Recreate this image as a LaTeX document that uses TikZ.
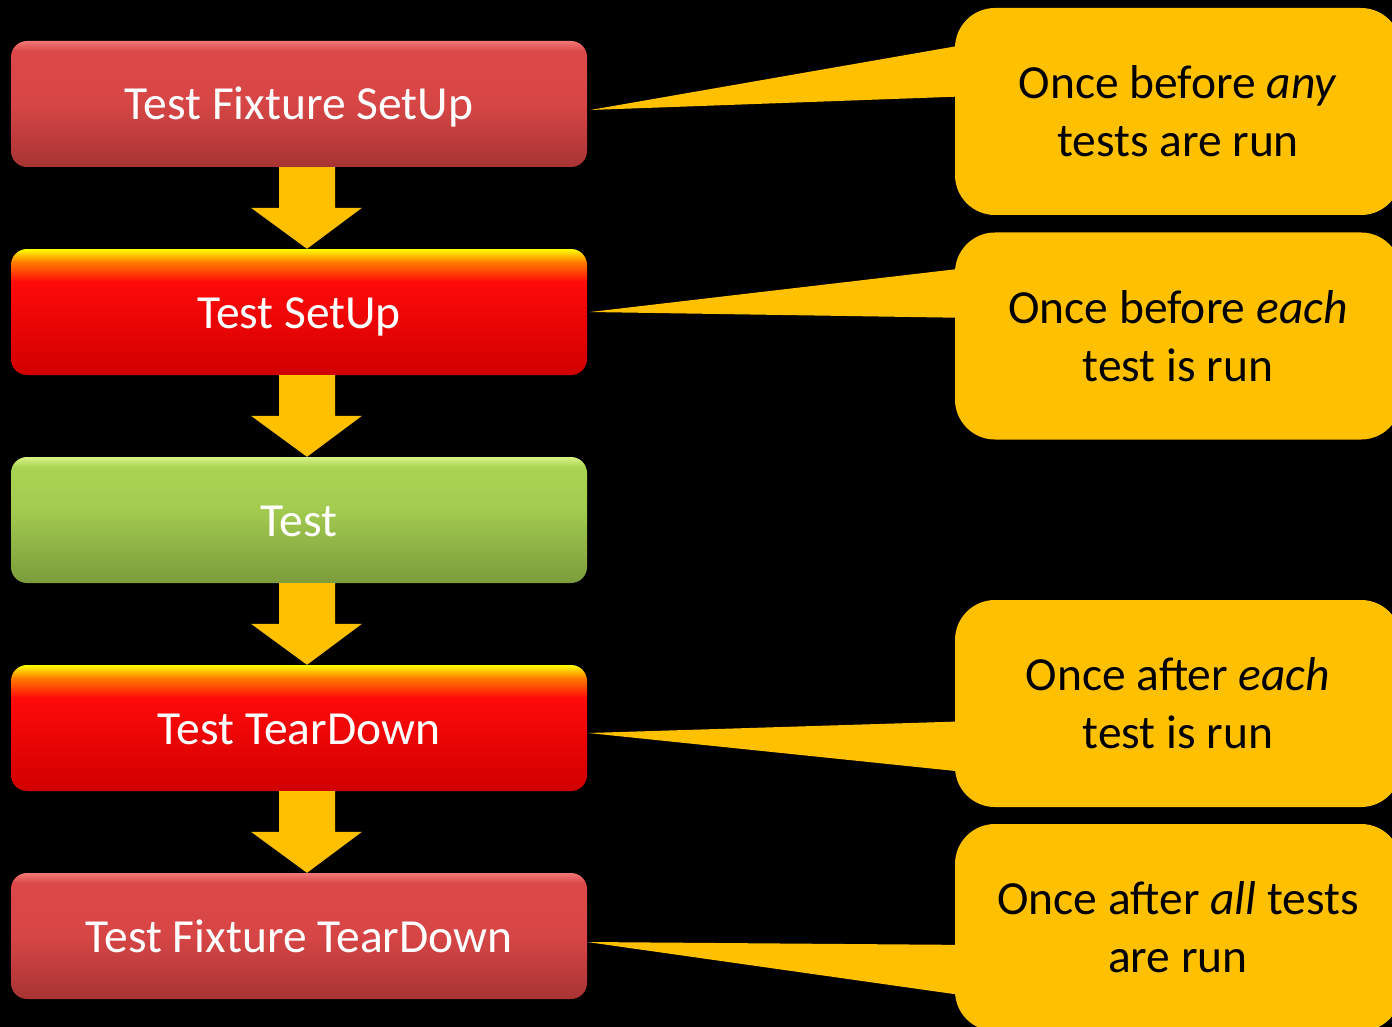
\documentclass[tikz,border=0pt]{standalone}
\usepackage{fontspec}
\setmainfont{Carlito}
\usetikzlibrary{positioning}

\definecolor{gold}{HTML}{FFC000}
\definecolor{dullTop}{HTML}{DC4848}
\definecolor{dullBot}{HTML}{A83333}
\definecolor{dullHi}{HTML}{F07878}
\definecolor{hotTop}{HTML}{FF0A0A}
\definecolor{hotBot}{HTML}{D00000}
\definecolor{greenTop}{HTML}{AAD453}
\definecolor{greenBot}{HTML}{7C9C3C}
\definecolor{greenHi}{HTML}{D8F286}

\pgfdeclareverticalshading{dullred}{100bp}{color(0bp)=(dullBot); color(25bp)=(dullBot);
  color(50bp)=(dullTop!90!dullBot); color(71bp)=(dullTop); color(75bp)=(dullHi); color(100bp)=(dullHi)}
\pgfdeclareverticalshading{hotred}{100bp}{color(0bp)=(hotBot); color(25bp)=(hotBot);
  color(62bp)=(hotTop); color(70bp)=(orange); color(75bp)=(yellow); color(100bp)=(yellow)}
\pgfdeclareverticalshading{greenish}{100bp}{color(0bp)=(greenBot); color(25bp)=(greenBot);
  color(55bp)=(greenTop!85!greenBot); color(71bp)=(greenTop); color(75bp)=(greenHi); color(100bp)=(greenHi)}

\tikzset{
  stage/.style={rounded corners=16pt, minimum width=576pt, minimum height=126pt,
    text=white, font=\fontsize{47.5}{58}\selectfont, inner sep=0pt,
    text height=36pt, text depth=4pt},
  fixture/.style={stage, shading=dullred},
  hot/.style={stage, shading=hotred},
  body/.style={stage, shading=greenish},
  note/.style={fill=gold, rounded corners=40pt, minimum width=446pt, minimum height=207pt,
    align=center, font=\fontsize{47.5}{58}\selectfont, inner sep=0pt}
}

\begin{document}
\begin{tikzpicture}[x=1pt, y=-1pt]
  \useasboundingbox (0,0) rectangle (1392,1027);
  \fill[black] (0,0) rectangle (1392,1027);

  % the run order
  \node[fixture] (fsu) at (299,104) {Test Fixture SetUp};
  \node[hot]     (su)  at (299,312) {Test SetUp};
  \node[body]    (tst) at (299,520) {Test};
  \node[hot]     (td)  at (299,728) {Test TearDown};
  \node[fixture] (ftd) at (299,936) {Test Fixture TearDown};

  \foreach \a/\b in {fsu/su, su/tst, tst/td, td/ftd}
    \fill[gold] ([xshift=-20pt]\a.south) -- ([xshift=-20pt,yshift=41pt]\b.north)
      -- ([xshift=-48pt,yshift=41pt]\b.north) -- ([xshift=8pt]\b.north)
      -- ([xshift=63pt,yshift=41pt]\b.north) -- ([xshift=36pt,yshift=41pt]\b.north)
      -- ([xshift=36pt]\a.south) -- cycle;

  % notes
  \node[note] (n1) at (1178,111.5) {Once before \textit{any}\\tests are run};
  \node[note] (n2) at (1178,336) {Once before \textit{each}\\test is run};
  \node[note] (n3) at (1178,703.5) {Once after \textit{each}\\test is run};
  \node[note] (n4) at (1178,927.5) {Once after \textit{all} tests\\are run};

  \fill[gold] ([xshift=3pt,yshift=-6pt]fsu.east) -- ([xshift=20pt,yshift=68.5pt]n1.west)
    -- ([xshift=20pt,yshift=15.5pt]n1.west) -- cycle;
  \fill[gold] ([xshift=3pt]su.east) -- ([xshift=20pt,yshift=69pt]n2.west)
    -- ([xshift=20pt,yshift=18pt]n2.west) -- cycle;
  \fill[gold] ([xshift=1pt,yshift=-5pt]td.east) -- ([xshift=20pt,yshift=-17.5pt]n3.west)
    -- ([xshift=20pt,yshift=-69.5pt]n3.west) -- cycle;
  \fill[gold] ([xshift=0pt,yshift=-6pt]ftd.east) -- ([xshift=20pt,yshift=-17.5pt]n4.west)
    -- ([xshift=20pt,yshift=-69.5pt]n4.west) -- cycle;
\end{tikzpicture}
\end{document}
